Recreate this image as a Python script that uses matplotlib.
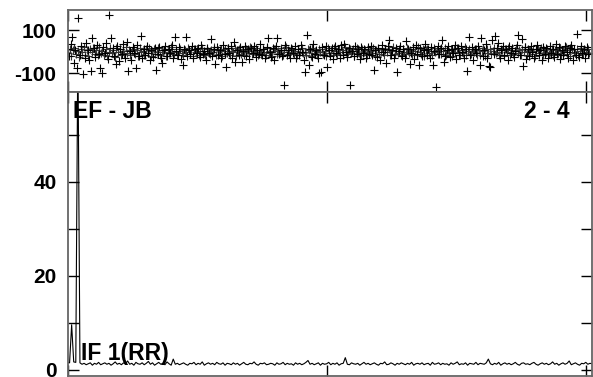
import numpy as np
import matplotlib
matplotlib.use("Agg")
import matplotlib.pyplot as plt
from matplotlib.ticker import FixedLocator, NullFormatter

plt.rcParams['font.family'] = ['Liberation Sans', 'DejaVu Sans']
plt.rcParams['font.weight'] = 'bold'

# phase (deg), one value every 3 channels
phase = [
    12, -20, 35, 67, -54, 8, -78, 157, -15, 25, -105, -30, 40, 5, -40, -89, 63, 18, -25, 30, -10, -78, -101, 22,
    -5, 38, -35, 170, 61, 15, -20, -58, 28, -42, 10, -12, 33, -28, 45, -91, 4, -38, 20, -8, -78, 30, -22, 73,
    -30, 12, -18, 25, -5, -40, 8, -25, 18, -86, -12, 22, -32, -54, 5, 28, -20, 10, -8, 30, -28, 66, 2, -15,
    20, -35, -63, 14, 66, -22, 6, -10, 25, -30, 12, -5, 18, -25, 30, -12, 4, -38, 15, -8, 56, -20, 10, -58,
    22, -15, 5, -28, 32, -10, -70, 18, -5, 26, -32, 46, -49, 8, -18, 20, -49, 2, 28, -22, 12, -35, 15, -8,
    24, -26, 6, -12, 35, -18, 10, -30, 20, 61, -4, -25, 15, -38, 28, 61, -10, 5, -20, -156, 32, -15, 8, -28,
    18, -6, 25, -32, 10, -18, 30, -2, -40, -94, 77, -63, 14, -24, 36, -10, 6, -30, -101, -94, 20, -15, 28, -70,
    8, -22, 16, -34, 24, -8, 12, -28, 30, -14, 33, -4, -26, 18, -156, 4, -20, 26, -12, 10, -36, 22, -6, 14,
    -30, 20, -10, 28, -18, -86, 6, -24, 16, -40, 32, -4, 12, -55, 24, 53, -14, 8, -32, 18, -94, 2, 26, -20,
    10, -28, 49, 14, -58, -6, 22, -34, 30, -12, -63, 18, -22, 6, 34, -16, 12, -30, 20, -63, 4, -164, 26, -10,
    16, 54, -49, -20, 8, 28, -26, 12, -8, 32, -36, 18, -14, 24, -4, -30, 10, -91, 69, -18, 22, -38, 14, -6,
    26, -63, 61, -22, 8, 34, -28, -66, -70, 53, -12, 72, 18, 38, -32, 6, 24, -18, 12, -40, 28, -8, 16, -26,
    4, 30, 77, -14, 56, -66, 20, -34, 10, -20, 26, -4, -30, 14, 32, -16, 6, -38, 22, -10, 18, -28, 28, -6,
    12, -24, 34, -12, 20, -36, 8, -18, 26, -2, -32, 16, 30, -40, 10, -14, 80, -26, 24, -8, 14, -30, 20, -12,
]

# second set of phase points (the dense core), offset by half a step
phase_b = [
    -8, 14, -20, 5, 18, -12, 2, -25, 10, -4, 20, -16, 6, -22, 12, -2, 16, -10, 8, -18, 22, -6, 4, -14,
    10, -20, 0, 15, -8, 6, -24, 18, -2, 12, -14, 4, -10, 20, -6, 8, -18, 2, 14, -12, 6, -22, 16, -4,
    2, -14, 12, -6, 18, -20, 4, 10, -10, 0, 16, -16, 8, -4, 14, -22, 6, -8, 20, -2, -12, 10, -18, 4,
    12, -6, -16, 8, 0, 18, -10, 6, -20, 14, -2, 10, -14, 4, 16, -8, -18, 12, 2, -12, 8, -4, 20, -16,
    6, -10, 14, -20, 2, 10, -6, 16, -14, 4, -2, 18, -22, 8, 12, -10, 0, -16, 14, 6, -8, 20, -12, 2,
    -4, 16, -18, 8, -10, 12, 0, -14, 18, -6, 4, -20, 10, 14, -12, 2, -8, 16, -16, 6, 20, -2, -10, 8,
    14, -12, 4, -18, 10, -4, 16, -8, 0, -16, 12, 6, -20, 18, -6, 2, -14, 10, -2, 14, -10, 4, -22, 16,
    -6, 8, -14, 18, 2, -10, 12, -18, 6, -4, 20, -12, 0, 14, -8, 10, -20, 4, 16, -6, -14, 12, -2, 8,
    -16, 10, 2, -8, 16, -20, 6, 14, -10, 0, 18, -14, 8, -4, 12, -18, 4, 20, -12, 2, -6, 14, -16, 10,
    0, -12, 16, -6, 8, -18, 12, 4, -14, 20, -2, -10, 14, -20, 6, 10, -8, 2, -16, 18, -4, 8, -12, 14,
    -10, 4, 18, -16, 6, -2, 12, -20, 10, -8, 16, 0, -14, 8, -6, 20, -18, 2, 14, -10, 4, -4, 12, -16,
    8, -14, 2, 16, -20, 10, -6, 14, -12, 4, 18, -8, 0, -16, 12, 6, -22, 10, -2, 16, -14, 8, -10, 2,
    16, -8, 6, -18, 12, -2, 20, -14, 4, 8, -10, 14, -20, 2, 10, -6, 18, -16, 6, -4, 12, -12, 0, 14,
    -18, 6, 10, -8, 16, -14, 2, -4, 20, -10, 8, -20, 12, 0, -6, 14, -16, 4, 18, -12, 6, -2, 10, -8,
]

# amplitude, one value every 4 channels
amp = [
    1.6, 1.5, 9.6, 1.7, 1.6, 70, 1.5, 1.2, 1.4, 1.1, 1.3, 1.5, 1.0, 1.4, 1.2, 1.6, 1.1, 1.3, 1.5, 1.2,
    1.4, 1.0, 1.3, 1.7, 1.2, 1.4, 1.1, 1.5, 1.3, 1.9, 1.2, 1.4, 1.0, 1.6, 1.3, 1.2, 1.5, 1.1, 1.4, 1.8,
    1.2, 1.5, 1.0, 1.3, 1.6, 1.2, 1.4, 1.1, 1.7, 1.3, 1.0, 2.3, 1.2, 1.4, 1.1, 1.3, 1.5, 1.2, 1.0, 1.4,
    1.3, 1.6, 1.1, 1.4, 1.2, 1.7, 1.0, 1.3, 1.5, 1.2, 1.4, 1.1, 1.6, 1.3, 1.2, 1.5, 1.0, 1.4, 1.3, 1.1,
    1.5, 1.2, 1.4, 1.0, 1.3, 1.6, 1.2, 1.1, 1.4, 1.3, 1.7, 1.2, 1.0, 1.4, 1.3, 1.5, 1.1, 1.2, 1.4, 1.3,
    1.0, 1.5, 1.2, 1.3, 1.6, 1.1, 1.4, 1.2, 1.3, 1.0, 1.5, 1.2, 1.4, 1.1, 1.3, 1.6, 2.0, 1.2, 1.4, 1.1,
    1.3, 1.5, 1.0, 1.4, 1.2, 1.3, 1.6, 1.1, 1.4, 1.2, 1.5, 1.0, 1.3, 1.4, 2.6, 1.2, 1.1, 1.5, 1.3, 1.2,
    1.4, 1.0, 1.3, 1.6, 1.2, 1.4, 1.1, 1.3, 1.5, 1.2, 1.0, 1.4, 1.3, 1.7, 1.1, 1.2, 1.5, 1.3, 1.0, 1.4,
    1.2, 1.5, 1.3, 1.1, 1.4, 1.2, 1.6, 1.0, 1.3, 1.4, 1.2, 1.5, 1.1, 1.3, 1.4, 1.0, 1.6, 1.2, 1.3, 1.5,
    1.1, 1.4, 1.2, 1.3, 1.0, 1.5, 1.2, 1.4, 1.7, 1.1, 1.3, 1.2, 1.5, 1.0, 1.4, 1.3, 1.2, 1.6, 1.1, 1.4,
    1.3, 1.2, 1.5, 2.3, 1.3, 1.1, 1.4, 1.2, 1.6, 1.0, 1.3, 1.5, 1.2, 1.4, 1.1, 1.3, 1.6, 1.2, 1.0, 1.4,
    1.5, 1.2, 1.3, 1.1, 1.4, 1.6, 1.2, 1.0, 1.3, 1.5, 1.2, 1.4, 1.1, 1.3, 1.7, 1.2, 1.4, 1.0, 1.3, 1.5,
    1.2, 1.4, 1.9, 1.1, 1.3, 1.5, 1.2, 1.0, 1.4, 1.3, 1.6, 1.2, 1.4, 1.3,
]

phase_ch = np.arange(len(phase)) * 3
phase_b_ch = np.arange(len(phase_b)) * 3 + 1.5
amp_ch = np.arange(len(amp)) * 4

baseline = "EF - JB"
poln = "2 - 4"
ifname = "IF 1(RR)"

W, H = 593, 377
fig = plt.figure(figsize=(W / 100, H / 100), dpi=100)

def box(x0, y0, x1, y1):
    return [x0 / W, 1 - y1 / H, (x1 - x0) / W, (y1 - y0) / H]

ax1 = fig.add_axes(box(67.5, 10, 592, 92))
ax2 = fig.add_axes(box(67.5, 92, 592, 376))

for ax in (ax1, ax2):
    ax.set_xlim(0, 1012)
    ax.set_xticks([0, 500, 1000])
    ax.xaxis.set_major_formatter(NullFormatter())
    ax.tick_params(axis='both', which='both', direction='in', length=8,
                   width=1, top=True, right=True, labelsize=15, pad=8)
    for s in ax.spines.values():
        s.set_color('#666666')
        s.set_linewidth(1.3)

# phase panel
ax1.plot(phase_b_ch, phase_b, '+', color='#333333', ms=6, mew=0.8)
ax1.plot(phase_ch, phase, 'k+', ms=6, mew=0.8)
ax1.set_ylim(-188, 193)
ax1.set_yticks([-100, 100])
ax1.set_yticklabels(['-100', '100'])

# amplitude panel
ax2.plot(amp_ch, amp, 'k-', lw=0.8)
ax2.set_ylim(-1.3, 59.15)
ax2.set_yticks([0, 20, 40])
ax2.yaxis.set_minor_locator(FixedLocator([10, 30, 50]))

for lab in ax1.get_yticklabels() + ax2.get_yticklabels():
    lab.set_fontweight('bold')

fig.text(73 / W, 1 - 118 / H, baseline, fontsize=16.5, fontweight='bold', va='baseline')
fig.text(570 / W, 1 - 118 / H, poln, fontsize=16.5, fontweight='bold', va='baseline', ha='right')
fig.text(81 / W, 1 - 360 / H, ifname, fontsize=16.5, fontweight='bold', va='baseline')

fig.savefig('out.png', dpi=100)
